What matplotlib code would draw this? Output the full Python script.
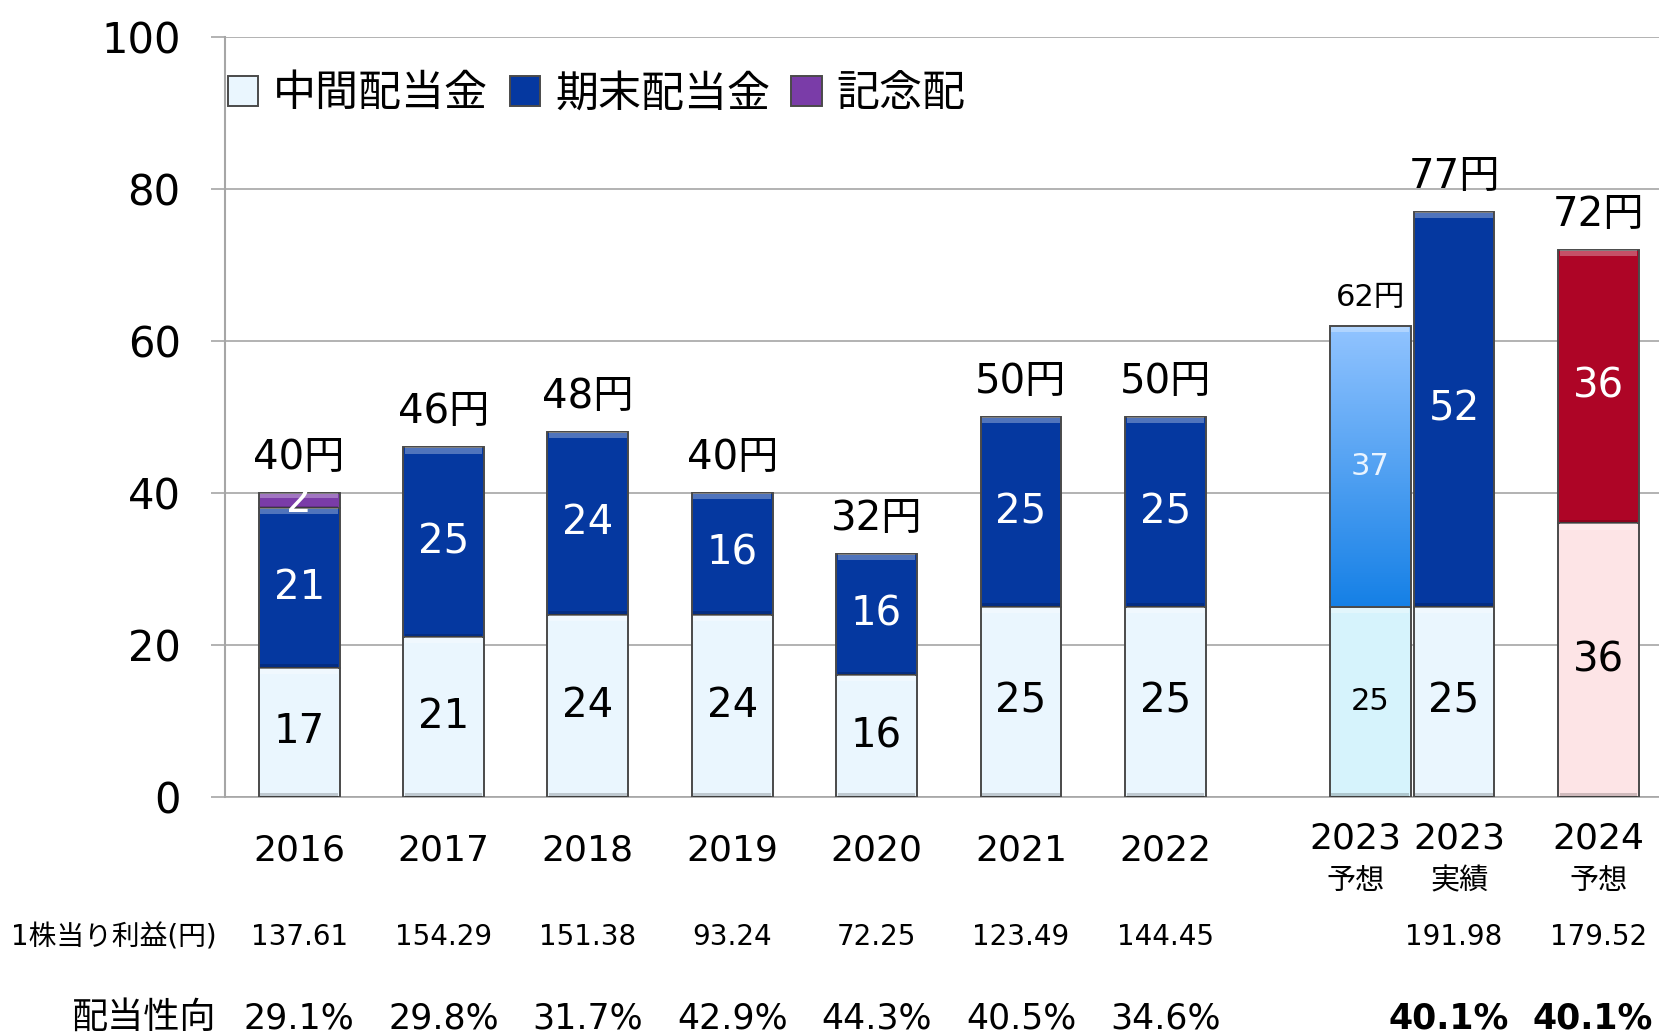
import matplotlib
matplotlib.use("Agg")
import matplotlib.pyplot as plt
import numpy as np
from matplotlib.patches import Patch

plt.rcParams["font.family"] = ["DejaVu Sans", "Noto Sans CJK JP"]

# --- data ---
years = ["2016", "2017", "2018", "2019", "2020", "2021", "2022"]
interim = [17, 21, 24, 24, 16, 25, 25]
year_end = [21, 25, 24, 16, 16, 25, 25]
commemorative = [2, 0, 0, 0, 0, 0, 0]

fc23_interim, fc23_end = 25, 37        # 2023 予想
act23_interim, act23_end = 25, 52      # 2023 実績
fc24_interim, fc24_end = 36, 36        # 2024 予想

eps = ["137.61", "154.29", "151.38", "93.24", "72.25", "123.49", "144.45"]
eps_2023, eps_2024 = "191.98", "179.52"
payout = ["29.1%", "29.8%", "31.7%", "42.9%", "44.3%", "40.5%", "34.6%"]
payout_2023, payout_2024 = "40.1%", "40.1%"

legend_labels = ["中間配当金", "期末配当金", "記念配"]

# --- colours ---
C_INT = "#EAF6FE"
C_END = "#0538A0"
C_MEM = "#7A3CA8"
C_FC_INT = "#D6F3FC"
C_FC_END_TOP = "#92C4FF"
C_FC_END_BOT = "#1580E6"
C_24_INT = "#FDE4E6"
C_24_END = "#AE0526"
EDGE = "#4A4A4A"
GRID = "#A6A6A6"

W = 0.56
FS = 29
OFF = 2.0

fig = plt.figure(figsize=(16.59, 10.35), dpi=100)
ax = fig.add_axes([0.1357, 0.230, 0.8643, 0.734])

x = np.arange(len(years))
x_fc23 = len(years) + 1 - 0.58
x_act23 = len(years) + 1
x_24 = len(years) + 2


def seg(xs, heights, bottoms, color, hl="white", hl_alpha=0.3):
    bars = ax.bar(xs, heights, W, bottom=bottoms, color=color,
                  edgecolor=EDGE, linewidth=1.4, zorder=3)
    # simple bevel: light strip on top, dark strip at the bottom
    h = np.asarray(heights, dtype=float)
    b = np.asarray(bottoms, dtype=float)
    strip = np.minimum(0.8, h * 0.3)
    m = h > 0
    xs = np.atleast_1d(xs)
    ax.bar(np.asarray(xs)[m], strip[m], W * 0.96, bottom=(b + h - strip)[m],
           color=hl, alpha=hl_alpha, linewidth=0, zorder=4)
    ax.bar(np.asarray(xs)[m], strip[m] * 0.6, W * 0.96, bottom=b[m],
           color="black", alpha=0.18, linewidth=0, zorder=4)
    return bars


# historic years
zeros = np.zeros(len(years))
seg(x, interim, zeros, C_INT)
seg(x, year_end, np.array(interim), C_END)
seg(x, commemorative, np.array(interim) + np.array(year_end), C_MEM)

# 2023 forecast
seg([x_fc23], [fc23_interim], [0], C_FC_INT)
fc_bar = ax.bar([x_fc23], [fc23_end], W, bottom=[fc23_interim], color="none",
                edgecolor=EDGE, linewidth=1.4, zorder=5)[0]
grad = np.linspace(0, 1, 256).reshape(-1, 1)
cmap = matplotlib.colors.LinearSegmentedColormap.from_list(
    "fc", [C_FC_END_BOT, C_FC_END_TOP])
im = ax.imshow(grad, cmap=cmap, origin="lower", aspect="auto", zorder=3,
               extent=[x_fc23 - W / 2, x_fc23 + W / 2,
                       fc23_interim, fc23_interim + fc23_end])
im.set_clip_path(fc_bar)
ax.bar([x_fc23], [0.8], W * 0.96, bottom=[fc23_interim + fc23_end - 0.8],
       color="white", alpha=0.3, linewidth=0, zorder=4)

# 2023 actual
seg([x_act23], [act23_interim], [0], C_INT)
seg([x_act23], [act23_end], [act23_interim], C_END)

# 2024 forecast
seg([x_24], [fc24_interim], [0], C_24_INT)
seg([x_24], [fc24_end], [fc24_interim], C_24_END)

# --- labels inside bars ---
for xi, a, b, c in zip(x, interim, year_end, commemorative):
    ax.text(xi, a / 2, str(a), ha="center", va="center", fontsize=FS, color="black", zorder=6)
    ax.text(xi, a + b / 2, str(b), ha="center", va="center", fontsize=FS, color="white", zorder=6)
    if c:
        ax.text(xi, a + b + c / 2, str(c), ha="center", va="center", fontsize=FS,
                color="white", zorder=6)
    ax.text(xi, a + b + c + OFF, f"{a + b + c}円", ha="center", va="bottom",
            fontsize=FS, zorder=6)

ax.text(x_fc23, fc23_interim / 2, str(fc23_interim), ha="center", va="center",
        fontsize=22, color="black", zorder=6)
ax.text(x_fc23, fc23_interim + fc23_end / 2, str(fc23_end), ha="center", va="center",
        fontsize=22, color="#EAF4FF", zorder=6)
ax.text(x_fc23, fc23_interim + fc23_end + 1.8, f"{fc23_interim + fc23_end}円",
        ha="center", va="bottom", fontsize=22, zorder=6)

ax.text(x_act23, act23_interim / 2, str(act23_interim), ha="center", va="center",
        fontsize=FS, color="black", zorder=6)
ax.text(x_act23, act23_interim + act23_end / 2, str(act23_end), ha="center",
        va="center", fontsize=FS, color="white", zorder=6)
ax.text(x_act23, act23_interim + act23_end + OFF, f"{act23_interim + act23_end}円",
        ha="center", va="bottom", fontsize=FS, zorder=6)

ax.text(x_24, fc24_interim / 2, str(fc24_interim), ha="center", va="center",
        fontsize=FS, color="black", zorder=6)
ax.text(x_24, fc24_interim + fc24_end / 2, str(fc24_end), ha="center", va="center",
        fontsize=FS, color="white", zorder=6)
ax.text(x_24, fc24_interim + fc24_end + OFF, f"{fc24_interim + fc24_end}円",
        ha="center", va="bottom", fontsize=FS, zorder=6)

# --- axes styling ---
ax.set_xlim(-0.513, 9.42)
ax.set_ylim(0, 100)
ax.set_yticks([0, 20, 40, 60, 80, 100])
ax.tick_params(axis="y", labelsize=30, length=10, width=1.2, color=GRID, pad=22)
ax.set_xticks([])
ax.grid(axis="y", color=GRID, linewidth=1.2, zorder=0)
ax.set_axisbelow(True)
for side in ("top", "right"):
    ax.spines[side].set_visible(False)
ax.spines["left"].set_color(GRID)
ax.spines["left"].set_linewidth(1.5)
ax.spines["bottom"].set_color(GRID)
ax.spines["bottom"].set_linewidth(1.2)

# --- table rows below the axis ---
tr = ax.get_xaxis_transform()
y_year, y_year2, y_sub, y_eps, y_pay = -0.070, -0.055, -0.111, -0.185, -0.291
FS_YEAR, FS_SUB, FS_EPS, FS_PAY = 26, 21, 20, 25
for xi, yr, e, p in zip(x, years, eps, payout):
    ax.text(xi, y_year, yr, transform=tr, ha="center", va="center", fontsize=FS_YEAR)
    ax.text(xi, y_eps, e, transform=tr, ha="center", va="center", fontsize=FS_EPS)
    ax.text(xi, y_pay, p, transform=tr, ha="center", va="center", fontsize=FS_PAY)

ax.text(x_fc23 - 0.1, y_year2, "2023", transform=tr, ha="center", va="center", fontsize=FS_YEAR)
ax.text(x_fc23 - 0.1, y_sub, "予想", transform=tr, ha="center", va="center", fontsize=FS_SUB)
ax.text(x_act23 + 0.04, y_year2, "2023", transform=tr, ha="center", va="center", fontsize=FS_YEAR)
ax.text(x_act23 + 0.04, y_sub, "実績", transform=tr, ha="center", va="center", fontsize=FS_SUB)
ax.text(x_24, y_year2, "2024", transform=tr, ha="center", va="center", fontsize=FS_YEAR)
ax.text(x_24, y_sub, "予想", transform=tr, ha="center", va="center", fontsize=FS_SUB)

ax.text(x_act23, y_eps, eps_2023, transform=tr, ha="center", va="center", fontsize=FS_EPS)
ax.text(x_24, y_eps, eps_2024, transform=tr, ha="center", va="center", fontsize=FS_EPS)
ax.text(x_act23 - 0.04, y_pay, payout_2023, transform=tr, ha="center", va="center",
        fontsize=FS_PAY, fontweight="bold")
ax.text(x_24 - 0.04, y_pay, payout_2024, transform=tr, ha="center", va="center",
        fontsize=FS_PAY, fontweight="bold")

ax.text(-0.57, y_eps, "1株当り利益(円)", transform=tr, ha="right", va="center", fontsize=20)
ax.text(-0.57, y_pay, "配当性向", transform=tr, ha="right", va="center", fontsize=26)

# --- legend ---
handles = [Patch(facecolor=c, edgecolor=EDGE, linewidth=1.4)
           for c in (C_INT, C_END, C_MEM)]
ax.legend(handles, legend_labels, loc="center left", bbox_to_anchor=(0.002, 0.925),
          ncol=3, frameon=False, fontsize=31, handlelength=0.7, handleheight=0.7,
          handletextpad=0.35, columnspacing=0.5, borderaxespad=0, borderpad=0)

fig.savefig("out.png", dpi=100)
